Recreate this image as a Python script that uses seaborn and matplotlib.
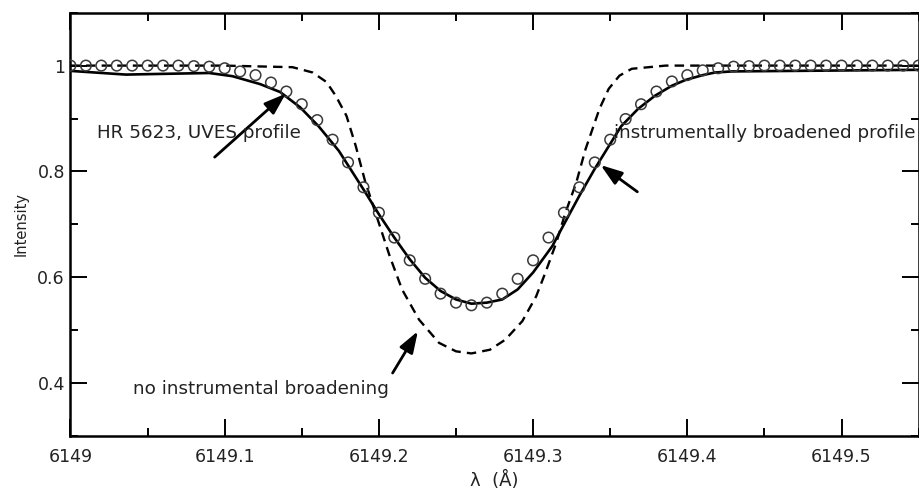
import numpy as np
import pandas as pd
import matplotlib
matplotlib.use("Agg")
import matplotlib.pyplot as plt
import seaborn as sns
from matplotlib.ticker import MultipleLocator, FixedLocator

# ---- data ----
# model circles: instrumentally broadened profile (every 0.01 A)
circ_wl = [6149.00 + 0.01 * i for i in range(56)]
circ_int = [1.0, 1.0, 1.0, 1.0, 1.0, 1.0, 1.0, 1.0, 0.999, 0.998,
            0.995, 0.989, 0.982, 0.968, 0.951, 0.927, 0.897, 0.860, 0.817, 0.770,
            0.722, 0.675, 0.632, 0.597, 0.569, 0.552, 0.547, 0.552, 0.569, 0.597,
            0.632, 0.675, 0.722, 0.770, 0.817, 0.860, 0.899, 0.927, 0.951, 0.970,
            0.982, 0.991, 0.995, 0.998, 0.999, 1.0, 1.0, 1.0, 1.0, 1.0,
            1.0, 1.0, 1.0, 1.0, 1.0, 1.0]

# observed HR 5623 UVES profile (solid)
obs_wl = [6149.000, 6149.036, 6149.053, 6149.090, 6149.105, 6149.123, 6149.136,
          6149.149, 6149.161, 6149.174, 6149.19, 6149.20, 6149.21, 6149.22,
          6149.23, 6149.24, 6149.25, 6149.26, 6149.27, 6149.28, 6149.29,
          6149.30, 6149.3125, 6149.32, 6149.33, 6149.34, 6149.357, 6149.368,
          6149.379, 6149.390, 6149.399, 6149.410, 6149.418, 6149.429, 6149.55]
obs_int = [0.990, 0.983, 0.984, 0.986, 0.980, 0.965, 0.950,
           0.921, 0.885, 0.839, 0.766, 0.719, 0.675, 0.634,
           0.599, 0.574, 0.558, 0.550, 0.552, 0.558, 0.577,
           0.609, 0.659, 0.700, 0.754, 0.805, 0.885, 0.918,
           0.943, 0.962, 0.973, 0.982, 0.987, 0.989, 0.992]

# model without instrumental broadening (dashed)
nob_wl = [6149.000, 6149.099, 6149.144, 6149.157, 6149.166, 6149.172, 6149.179,
          6149.185, 6149.191, 6149.198, 6149.207, 6149.215, 6149.226, 6149.239,
          6149.250, 6149.260, 6149.272, 6149.282, 6149.293, 6149.302, 6149.308,
          6149.315, 6149.321, 6149.328, 6149.334, 6149.343, 6149.349, 6149.356,
          6149.364, 6149.386, 6149.55]
nob_int = [1.0, 1.0, 0.997, 0.987, 0.969, 0.943, 0.905,
           0.848, 0.782, 0.720, 0.640, 0.577, 0.520, 0.476,
           0.460, 0.456, 0.463, 0.482, 0.517, 0.564, 0.609,
           0.665, 0.722, 0.779, 0.842, 0.918, 0.956, 0.981,
           0.994, 1.0, 1.0]

x_ticks = [6149.0, 6149.1, 6149.2, 6149.3, 6149.4, 6149.5]
x_tick_labels = ["6149", "6149.1", "6149.2", "6149.3", "6149.4", "6149.5"]
y_ticks = [0.4, 0.6, 0.8, 1.0]
y_tick_labels = ["0.4", "0.6", "0.8", "1"]

ann_texts = ["HR 5623, UVES profile", "instrumentally broadened profile",
             "no instrumental broadening"]

# ---- plot ----
sns.set_style("ticks")
plt.rcParams['font.family'] = ['DejaVu Sans']

fig = plt.figure(figsize=(9.2, 4.88), dpi=100)
ax = fig.add_axes([0.0766, 0.1066, 0.9219, 0.8674])

df_obs = pd.DataFrame({"wl": obs_wl, "I": obs_int})
df_nob = pd.DataFrame({"wl": nob_wl, "I": nob_int})
df_c = pd.DataFrame({"wl": circ_wl, "I": circ_int})

sns.lineplot(data=df_nob, x="wl", y="I", ax=ax, color="black", lw=1.7,
             linestyle=(0, (4, 2.6)), estimator=None, sort=True)
sns.lineplot(data=df_obs, x="wl", y="I", ax=ax, color="black", lw=1.9,
             estimator=None, sort=True)
sns.scatterplot(data=df_c, x="wl", y="I", ax=ax, s=58, marker="o",
                facecolor="none", edgecolor="#3a3a3a", linewidth=1.1, zorder=3)

ax.set_xlim(6149.0, 6149.55)
ax.set_ylim(0.3, 1.1)
ax.xaxis.set_major_locator(FixedLocator(x_ticks))
ax.set_xticklabels(x_tick_labels)
ax.xaxis.set_minor_locator(MultipleLocator(0.05))
ax.yaxis.set_major_locator(FixedLocator(y_ticks))
ax.set_yticklabels(y_tick_labels)
ax.yaxis.set_minor_locator(MultipleLocator(0.1))

ax.tick_params(which="both", direction="in", top=True, right=True,
               colors="black", width=1.4)
ax.tick_params(which="major", length=12.5)
ax.tick_params(which="minor", length=6)
ax.tick_params(axis="x", which="major", pad=9, labelsize=12.5, labelcolor="#222222")
ax.tick_params(axis="y", which="major", pad=4, labelsize=12.5, labelcolor="#222222")

for sp in ax.spines.values():
    sp.set_visible(True)
    sp.set_linewidth(1.8)
    sp.set_color("black")

ax.set_xlabel("λ  (Å)", fontsize=13, labelpad=3, color="#222222")
ax.set_ylabel("Intensity", fontsize=10.5, labelpad=6, color="#222222")

arrow = dict(arrowstyle="-|>,head_length=1.3,head_width=0.45", lw=2.0,
             color="black", shrinkA=0, shrinkB=0)
ax.annotate("", xy=(6149.1396, 0.947), xytext=(6149.0935, 0.827),
            arrowprops=arrow)
ax.text(6149.0171, 0.8735, ann_texts[0], fontsize=13.2, va="center", ha="left",
        color="#222222")

ax.annotate("", xy=(6149.3438, 0.812), xytext=(6149.3676, 0.7615),
            arrowprops=arrow)
ax.text(6149.3524, 0.8735, ann_texts[1], fontsize=13.2, va="center", ha="left",
        color="#222222")

ax.annotate("", xy=(6149.2253, 0.498), xytext=(6149.2089, 0.419),
            arrowprops=arrow)
ax.text(6149.0406, 0.389, ann_texts[2], fontsize=13.2, va="center", ha="left",
        color="#222222")

fig.savefig("out.png", dpi=100)
